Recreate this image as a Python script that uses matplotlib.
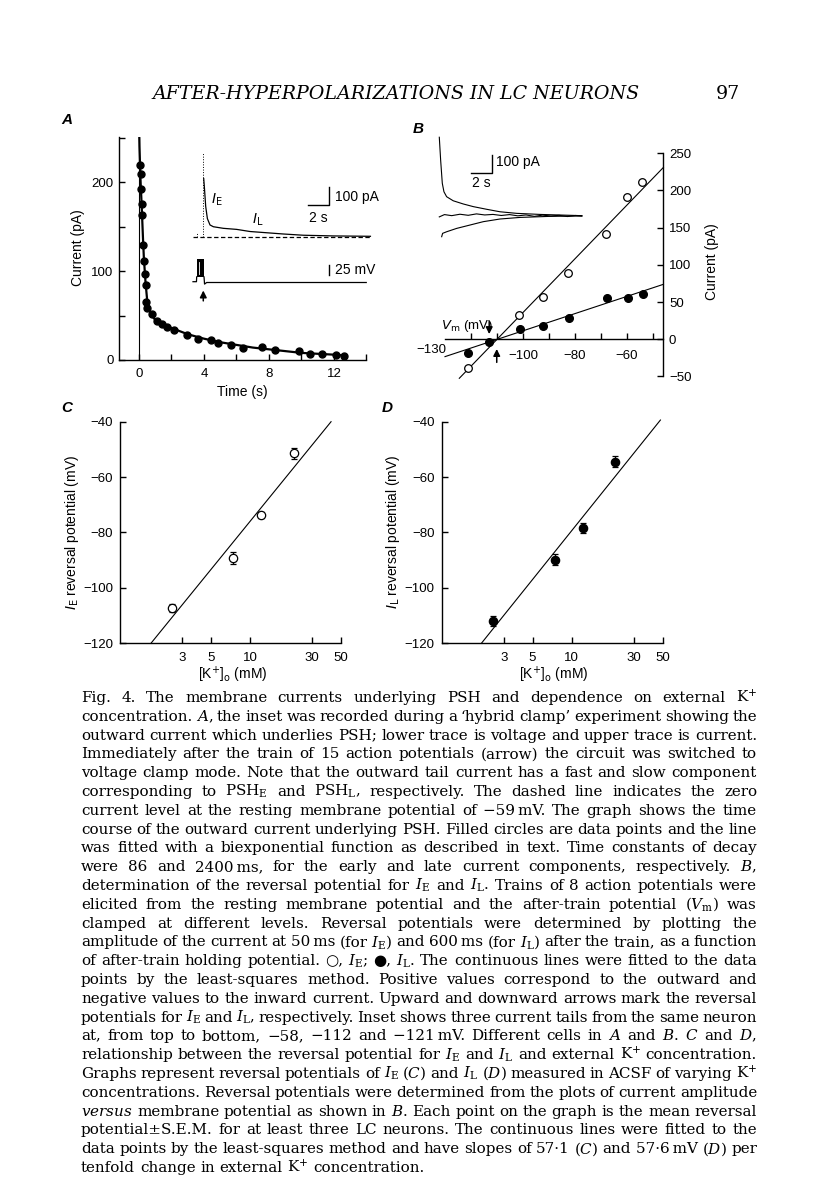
import numpy as np
import matplotlib
matplotlib.use("Agg")
import matplotlib.pyplot as plt
from matplotlib.ticker import FixedLocator, FixedFormatter, NullLocator

# ---------------- data ----------------
# Panel A: outward current after the train (filled circles) and biexponential fit
A_time = [0.08, 0.15, 0.15, 0.19, 0.19, 0.25, 0.31, 0.39, 0.41, 0.46, 0.52, 0.77, 1.08,
          1.39, 1.74, 2.18, 2.94, 3.65, 4.41, 4.89, 5.64, 6.42, 7.54, 8.37, 9.84, 10.5,
          11.27, 12.1, 12.6]
A_current = [219, 209, 192, 176, 163, 129, 111, 97, 84, 65, 59, 52, 44, 40, 37, 34, 28,
             24, 23, 19, 17, 13, 15, 11, 10, 7, 7, 6, 5]
A_fit_time = [0.0, 0.03, 0.06, 0.1, 0.15, 0.2, 0.25, 0.3, 0.4, 0.5, 0.6, 0.8, 1.0, 1.5,
              2.0, 3.0, 4.0, 5.0, 6.0, 7.0, 8.0, 9.0, 10.0, 11.0, 12.0, 12.7]
A_fit_current = [270, 240, 222, 200, 180, 158, 135, 115, 88, 68, 58, 50, 45, 40, 36, 29,
                 24, 20, 17, 14, 12, 10, 8, 7, 6, 5]
A_zero_time = 0.0

# Panel A inset: current trace (s, pA) and voltage trace (s, mV)
A_in_t = [1.02, 1.08, 1.21, 1.37, 1.62, 1.94, 2.89, 4.16, 5.43, 7.02, 8.6, 10.5, 13.4, 16.9]
A_in_I = [330, 285, 172, 104, 68, 58, 49, 43, 31, 24, 17, 10, 6, 4]
A_in_peak_t, A_in_peak_I = 0.98, 473
A_in_pre_t, A_in_pre_I = 0.35, 28
A_in_zero_t = [0.0, 16.9]
A_v_pre_t = [0.0, 0.33, 0.35]
A_v_pre = [0, 0, 12]
A_train_t = [0.35, 1.05]
A_train_lo, A_train_hi = 12, 56
A_v_post_t = [1.05, 1.1, 1.3, 16.5]
A_v_post = [12, -6, -2, -2]

# Panel B: I-V relation
B_open_v = [-121.0, -101.4, -92.4, -82.6, -68.1, -60.1, -54.4]
B_open_I = [-38.1, 32.7, 57.3, 89.6, 141.1, 191.8, 211.9]
B_fill_v = [-121.0, -113.0, -101.2, -92.2, -82.3, -67.6, -59.5, -53.7]
B_fill_I = [-18.8, -3.1, 14.3, 17.9, 28.7, 55.1, 55.1, 60.9]
B_open_line_v = [-124.5, -46.0]
B_open_line_I = [-52.4, 231.0]
B_fill_line_v = [-130.0, -46.0]
B_fill_line_I = [-23.3, 73.9]
B_rev_L, B_rev_E = -113.0, -110.1

# Panel B inset: three current tails (s, pA)
B_top_t = [0, 0.13, 0.29, 0.45, 0.71, 1.35, 2.32, 3.29, 4.58, 5.87, 7.49, 9.74, 13.8]
B_top_I = [445, 316, 185, 137, 109, 86, 68, 53, 38, 24, 15, 9, 2]
B_mid_t = [0.0, 0.5, 1.2, 2.0, 2.8, 3.6, 4.4, 5.2, 6.0, 6.8, 7.6, 8.4, 9.2, 10.0, 10.8,
           11.6, 12.4, 13.2, 13.8]
B_mid_I = [-5, 8, 2, 10, 4, 12, 6, 9, 3, 8, 1, 6, -2, 5, 0, 4, -3, 3, 0]
B_bot_t = [0.23, 0.32, 0.71, 1.68, 2.97, 4.26, 5.87, 7.81, 10.7, 13.8]
B_bot_I = [-117, -98, -89, -70, -51, -32, -17, -8, -2, 0]

# Panels C and D: reversal potential vs [K+]o
C_K = [2.5, 7.4, 12.2, 21.9]
C_E = [-107.2, -89.2, -73.6, -51.4]
C_err = [1.5, 2.3, 1.0, 2.0]
C_line_K = [1.73, 42.0]
C_line_E = [-120, -40]
D_K = [2.48, 7.4, 12.2, 21.7]
D_E = [-112.1, -89.8, -78.4, -54.4]
D_err = [1.8, 2.0, 1.8, 2.0]
D_line_K = [2.02, 48.1]
D_line_E = [-120, -39.4]
K_ticks = [3, 5, 10, 30, 50]

caption_lines = [
    "Fig. 4. The membrane currents underlying PSH and dependence on external K$^{+}$",
    "concentration. $A$, the inset was recorded during a \u2018hybrid clamp\u2019 experiment showing the",
    "outward current which underlies PSH; lower trace is voltage and upper trace is current.",
    "Immediately after the train of 15 action potentials (arrow) the circuit was switched to",
    "voltage clamp mode. Note that the outward tail current has a fast and slow component",
    "corresponding to PSH$_{\\mathrm{E}}$ and PSH$_{\\mathrm{L}}$, respectively. The dashed line indicates the zero",
    "current level at the resting membrane potential of \u221259\u2009mV. The graph shows the time",
    "course of the outward current underlying PSH. Filled circles are data points and the line",
    "was fitted with a biexponential function as described in text. Time constants of decay",
    "were 86 and 2400\u2009ms, for the early and late current components, respectively. $B$,",
    "determination of the reversal potential for $I_{\\mathrm{E}}$ and $I_{\\mathrm{L}}$. Trains of 8 action potentials were",
    "elicited from the resting membrane potential and the after-train potential ($V_{\\mathrm{m}}$) was",
    "clamped at different levels. Reversal potentials were determined by plotting the",
    "amplitude of the current at 50\u2009ms (for $I_{\\mathrm{E}}$) and 600\u2009ms (for $I_{\\mathrm{L}}$) after the train, as a function",
    "of after-train holding potential. \u25cb, $I_{\\mathrm{E}}$; \u25cf, $I_{\\mathrm{L}}$. The continuous lines were fitted to the data",
    "points by the least-squares method. Positive values correspond to the outward and",
    "negative values to the inward current. Upward and downward arrows mark the reversal",
    "potentials for $I_{\\mathrm{E}}$ and $I_{\\mathrm{L}}$, respectively. Inset shows three current tails from the same neuron",
    "at, from top to bottom, \u221258, \u2212112 and \u2212121\u2009mV. Different cells in $A$ and $B$. $C$ and $D$,",
    "relationship between the reversal potential for $I_{\\mathrm{E}}$ and $I_{\\mathrm{L}}$ and external K$^{+}$ concentration.",
    "Graphs represent reversal potentials of $I_{\\mathrm{E}}$ ($C$) and $I_{\\mathrm{L}}$ ($D$) measured in ACSF of varying K$^{+}$",
    "concentrations. Reversal potentials were determined from the plots of current amplitude",
    "$\\mathit{versus}$ membrane potential as shown in $B$. Each point on the graph is the mean reversal",
    "potential\u00b1S.E.M. for at least three LC neurons. The continuous lines were fitted to the",
    "data points by the least-squares method and have slopes of 57\u00b71 ($C$) and 57\u00b76\u2009mV ($D$) per",
    "tenfold change in external K$^{+}$ concentration.",
]

# ---------------- figure ----------------
W, H = 816, 1200
fig = plt.figure(figsize=(W / 100, H / 100), dpi=100)
fig.patch.set_facecolor("white")
SANS = ["Liberation Sans", "DejaVu Sans"]
SERIF = ["DejaVu Serif", "DejaVu Sans"]
plt.rcParams["font.family"] = SANS
plt.rcParams["axes.linewidth"] = 1.0
TICK = 9.5
LAB = 10


def px_axes(x0, y0, x1, y1):
    return fig.add_axes([x0 / W, 1 - y1 / H, (x1 - x0) / W, (y1 - y0) / H])


def ptext(x, y, s, **kw):
    kw.setdefault("family", SANS)
    return fig.text(x / W, 1 - y / H, s, **kw)


def style(ax, xlab_pad=6, ylab_pad=4):
    ax.tick_params(which="both", direction="in", length=4, width=1.0,
                   labelsize=TICK, colors="k")
    ax.tick_params(axis="x", pad=xlab_pad)
    ax.tick_params(axis="y", pad=ylab_pad)
    ax.set_facecolor("none")


ARROW = dict(arrowstyle="-|>", color="k", lw=1.1, mutation_scale=10, shrinkA=0, shrinkB=0)

# ----- Panel A -----
axA = px_axes(119, 137, 366.5, 360)
axA.set_xlim(-1.23, 14)
axA.set_ylim(0, 251)
for s in ["top", "right"]:
    axA.spines[s].set_visible(False)
axA.plot([A_zero_time, A_zero_time], [0, 250], color="k", lw=0.8)
axA.plot(A_fit_time, A_fit_current, color="k", lw=1.6)
axA.plot(A_time, A_current, "o", color="k", ms=5, clip_on=False)
axA.xaxis.set_major_locator(FixedLocator(list(range(0, 15, 2))))
axA.xaxis.set_major_formatter(FixedFormatter(["0", "", "4", "", "8", "", "12", ""]))
axA.yaxis.set_major_locator(FixedLocator([0, 50, 100, 150, 200, 250]))
axA.yaxis.set_major_formatter(FixedFormatter(["0", "", "100", "", "200", ""]))
style(axA)
ptext(78, 248, "Current (pA)", rotation=90, ha="center", va="center", fontsize=LAB)
ptext(242, 392, "Time (s)", ha="center", va="center", fontsize=LAB)

# inset A current
axAi = px_axes(188, 140, 378, 245)
axAi.set_xlim(-0.476, 17.62)
axAi.set_ylim(-45.2, 548)
axAi.axis("off")
axAi.plot(A_in_zero_t, [0, 0], color="k", lw=0.9, dashes=(3.5, 2))
axAi.plot([A_in_peak_t, A_in_peak_t], [0, A_in_peak_I], color="k", lw=0.7, ls=":")
axAi.plot([A_in_pre_t, A_in_pre_t], [0, A_in_pre_I], color="k", lw=0.7, ls=":")
axAi.plot(A_in_t, A_in_I, color="k", lw=0.9)
axAi.plot([10.98, 12.98, 12.98], [180.8, 180.8, 280.8], color="k", lw=1.0)
axAi.text(1.7, 209, "$I_{\\mathrm{E}}$", fontsize=LAB, ha="left", va="center",
          math_fontfamily="dejavusans")
axAi.text(5.6, 96, "$I_{\\mathrm{L}}$", fontsize=LAB, ha="left", va="center",
          math_fontfamily="dejavusans")
axAi.text(13.5, 228, "100 pA", fontsize=LAB, ha="left", va="center")
axAi.text(11.9, 105, "2 s", fontsize=LAB, ha="center", va="center")

# inset A voltage
axAv = px_axes(188, 250, 378, 305)
axAv.set_xlim(-0.476, 17.62)
axAv.set_ylim(-58.25, 79.25)
axAv.axis("off")
axAv.plot(A_v_pre_t, A_v_pre, color="k", lw=0.9)
axAv.fill_between(A_train_t, A_train_lo, A_train_hi, color="k", lw=0)
axAv.plot([0.6, 0.6], [20, 50], color="white", lw=0.6)
axAv.plot(A_v_post_t, A_v_post, color="k", lw=0.9)
axAv.plot([12.98, 12.98], [16.75, 41.75], color="k", lw=1.0)
axAv.text(13.5, 29, "25 mV", fontsize=LAB, ha="left", va="center")
axAv.annotate("", xy=(A_in_peak_t, -22), xytext=(A_in_peak_t, -48), arrowprops=ARROW)

# ----- Panel B -----
axB = px_axes(445, 153.3, 663.4, 376.5)
axB.set_xlim(-130, -46)
axB.set_ylim(-50, 250)
axB.spines["left"].set_visible(False)
axB.spines["top"].set_visible(False)
axB.spines["bottom"].set_position(("data", 0))
axB.yaxis.tick_right()
axB.plot(B_open_line_v, B_open_line_I, color="k", lw=0.8, clip_on=False)
axB.plot(B_fill_line_v, B_fill_line_I, color="k", lw=0.8, clip_on=False)
axB.plot(B_open_v, B_open_I, "o", mfc="white", mec="k", mew=0.9, ms=5.5, clip_on=False)
axB.plot(B_fill_v, B_fill_I, "o", color="k", ms=5.5, clip_on=False)
axB.xaxis.set_major_locator(FixedLocator(list(range(-120, -49, 10))))
axB.xaxis.set_major_formatter(FixedFormatter(["", "", "\u2212100", "", "\u221280", "",
                                              "\u221260", ""]))
axB.yaxis.set_major_locator(FixedLocator([-50, 0, 50, 100, 150, 200, 250]))
axB.yaxis.set_major_formatter(FixedFormatter(["\u221250", "0", "50", "100", "150", "200", "250"]))
style(axB, xlab_pad=8, ylab_pad=4)
axB.text(-129.3, -14, "\u2212130", fontsize=TICK, ha="right", va="center")
axB.text(-131.5, 18, "$V_{\\mathrm{m}}$ (mV)", fontsize=9.5, ha="left", va="center",
         math_fontfamily="dejavusans")
axB.annotate("", xy=(B_rev_L, 7), xytext=(B_rev_L, 24), arrowprops=ARROW)
axB.annotate("", xy=(B_rev_E, -13), xytext=(B_rev_E, -31), arrowprops=ARROW)
ptext(712, 262, "Current (pA)", rotation=90, ha="center", va="center", fontsize=LAB)

# inset B
axBi = px_axes(435, 130, 590, 245)
axBi.set_xlim(-0.416, 14.59)
axBi.set_ylim(-163.8, 485.9)
axBi.axis("off")
axBi.plot(B_top_t, B_top_I, color="k", lw=0.8)
axBi.plot(B_mid_t, B_mid_I, color="k", lw=0.8)
axBi.plot(B_bot_t, B_bot_I, color="k", lw=0.8)
axBi.plot([3.07, 5.07, 5.07], [244.6, 244.6, 344.6], color="k", lw=1.0)
axBi.text(5.5, 305, "100 pA", fontsize=LAB, ha="left", va="center")
axBi.text(4.1, 185, "2 s", fontsize=LAB, ha="center", va="center")


# ----- Panels C and D -----
def kpanel(box, K, E, err, lK, lE, filled, ylab, ylab_x, xlab_x):
    ax = px_axes(*box)
    ax.set_xscale("log")
    ax.set_xlim(1, 50)
    ax.set_ylim(-120, -40)
    for s in ["top", "right"]:
        ax.spines[s].set_visible(False)
    ax.plot(lK, lE, color="k", lw=0.8, clip_on=False)
    ax.errorbar(K, E, yerr=err, fmt="o", ms=6, mfc=("k" if filled else "white"),
                mec="k", mew=0.9, ecolor="k", elinewidth=0.9, capsize=2, capthick=0.9,
                clip_on=False)
    ax.xaxis.set_major_locator(FixedLocator(K_ticks))
    ax.xaxis.set_major_formatter(FixedFormatter([str(k) for k in K_ticks]))
    ax.xaxis.set_minor_locator(NullLocator())
    ax.yaxis.set_major_locator(FixedLocator([-120, -100, -80, -60, -40]))
    ax.yaxis.set_major_formatter(FixedFormatter(["\u2212120", "\u2212100", "\u221280",
                                                 "\u221260", "\u221240"]))
    style(ax, xlab_pad=6, ylab_pad=5)
    ptext(ylab_x, 532, ylab, rotation=90, ha="center", va="center", fontsize=LAB,
          math_fontfamily="dejavusans")
    ptext(xlab_x, 675, "[K$^{+}$]$_{\\mathrm{o}}$ (mM)", ha="center", va="center",
          fontsize=LAB, math_fontfamily="dejavusans")
    return ax


kpanel((120, 421.7, 340.9, 643.3), C_K, C_E, C_err, C_line_K, C_line_E, False,
       "$I_{\\mathrm{E}}$ reversal potential (mV)", 72, 233)
kpanel((441.7, 421.7, 662.6, 643.3), D_K, D_E, D_err, D_line_K, D_line_E, True,
       "$I_{\\mathrm{L}}$ reversal potential (mV)", 393, 554)

# panel letters
for lx, ly, lt in [(67, 120, "A"), (418, 129, "B"), (67, 408, "C"), (387, 408, "D")]:
    ptext(lx, ly, lt, fontsize=11, style="italic", weight="bold", ha="center", va="center")

# ---------------- header and caption ----------------
renderer = fig.canvas.get_renderer()


def measure(s, size, **kw):
    t = fig.text(0, 0, s, fontsize=size, **kw)
    w = t.get_window_extent(renderer).width
    t.remove()
    return w


hdr = "AFTER-HYPERPOLARIZATIONS IN LC NEURONS"
hkw = dict(family=SERIF, style="italic")
hsize = 12 * (486.0 / measure(hdr, 12, **hkw))
ptext(152, 94, hdr, fontsize=hsize, ha="left", va="center", **hkw)
ptext(728, 94, "97", fontsize=hsize, ha="center", va="center", family=SERIF)

ckw = dict(family=SERIF, math_fontfamily="dejavuserif")
X0, X1 = 81, 757
base = 10.0
word_w = [[measure(w, base, **ckw) for w in ln.split(" ")] for ln in caption_lines]
space_base = measure("a a", base, **ckw) - measure("aa", base, **ckw)
need = max(sum(ws) + 0.7 * space_base * (len(ws) - 1) for ws in word_w)
csize = base * (X1 - X0) / need
y_first, dy = 702, 18.8
for i, ln in enumerate(caption_lines):
    words = ln.split(" ")
    ws = [measure(w, csize, **ckw) for w in words]
    y = y_first + i * dy
    if i < len(caption_lines) - 1 and len(words) > 1:
        gap = (X1 - X0 - sum(ws)) / (len(words) - 1)
    else:
        gap = space_base * csize / base
    x = X0
    for w, wd in zip(words, ws):
        ptext(x, y, w, fontsize=csize, ha="left", va="baseline", **ckw)
        x += wd + gap

fig.savefig("out.png", dpi=100, facecolor="white")
